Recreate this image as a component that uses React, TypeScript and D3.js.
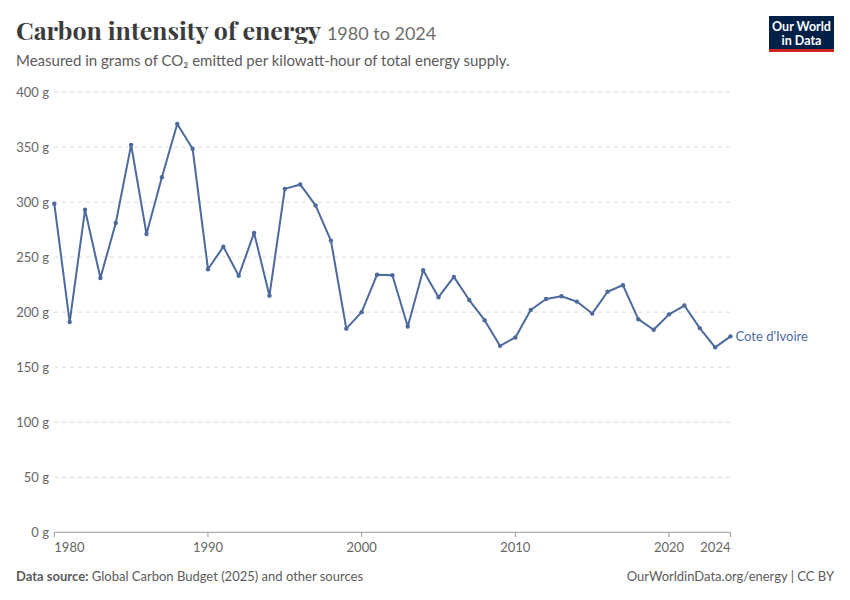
import * as d3 from 'd3'

const years: number[] = d3.range(1980, 2025)
const intensity: number[] = [
  298.5, 191, 293, 231, 281, 352, 271, 322.5, 371, 348.5,
  239, 259.5, 233, 272, 215, 312, 316, 297, 265, 185,
  200, 234, 233.6, 187, 238, 213.6, 232, 211, 192.7, 169.4,
  177, 202, 212, 214.5, 209.6, 198.7, 218.5, 224.5, 193.6, 184,
  198, 206, 185.5, 168, 178,
]
const yTicks: number[] = [0, 50, 100, 150, 200, 250, 300, 350, 400]
const xTicks: number[] = [1980, 1990, 2000, 2010, 2020, 2024]
const countryName = "Cote d'Ivoire"

const W = 850
const H = 600
const LINE = '#4c6a9c'
const FONT = 'Lato, "Noto Sans", sans-serif'

export default function App() {
  const x = d3.scaleLinear().domain([1980, 2024]).range([54.3, 730.5])
  const y = d3.scaleLinear().domain([0, 400]).range([532.3, 92])
  const points = years.map((yr, i) => ({ yr, v: intensity[i] }))
  const line = d3
    .line<{ yr: number; v: number }>()
    .x((d) => x(d.yr))
    .y((d) => y(d.v))
  const last = points[points.length - 1]

  return (
    <svg
      width={W}
      height={H}
      viewBox={`0 0 ${W} ${H}`}
      style={{ position: 'absolute', left: 0, top: 0, background: '#fff' }}
      fontFamily={FONT}
    >
      <rect width={W} height={H} fill="#fff" />
      <text x={16} y={40} fontFamily='"Playfair Display", "DejaVu Serif", Georgia, serif' fontSize={25} fontWeight={700} fill="#3b3b3b">
        Carbon intensity of energy
        <tspan fontFamily={FONT} fontWeight={400} fontSize={18} fill="#6e6e6e" dx={6}>
          1980 to 2024
        </tspan>
      </text>
      <text x={16} y={66} fontSize={15} fill="#5b5b5b">
        Measured in grams of CO₂ emitted per kilowatt-hour of total energy supply.
      </text>

      {/* logo */}
      <rect x={769} y={16} width={65} height={33} fill="#002147" />
      <rect x={769} y={49} width={65} height={3} fill="#ce261e" />
      <text x={801.5} y={31} textAnchor="middle" fontSize={12.5} fontWeight={700} fill="#fff">
        Our World
      </text>
      <text x={801.5} y={44.5} textAnchor="middle" fontSize={12.5} fontWeight={700} fill="#fff">
        in Data
      </text>

      {/* grid + y ticks */}
      {yTicks.map((t) => (
        <g key={t}>
          {t > 0 && (
            <line x1={54} x2={730} y1={y(t)} y2={y(t)} stroke="#dcdcdc" strokeDasharray="4 4" strokeWidth={1} />
          )}
          <text x={49} y={y(t)} dy="0.35em" textAnchor="end" fontSize={13} fill="#666">
            {`${t} g`}
          </text>
        </g>
      ))}

      {/* x axis */}
      <line x1={54.3} x2={730.5} y1={532.3} y2={532.3} stroke="#999" strokeWidth={1} />
      {xTicks.map((t, i) => (
        <g key={t}>
          <line x1={x(t)} x2={x(t)} y1={532.3} y2={537} stroke="#999" />
          <text
            x={x(t)}
            y={552}
            fontSize={13}
            fill="#666"
            textAnchor={i === 0 ? 'start' : i === xTicks.length - 1 ? 'end' : 'middle'}
          >
            {t}
          </text>
        </g>
      ))}

      {/* series */}
      <path d={line(points) ?? ''} fill="none" stroke={LINE} strokeWidth={2} strokeLinejoin="round" />
      {points.map((p) => (
        <circle key={p.yr} cx={x(p.yr)} cy={y(p.v)} r={2.2} fill={LINE} />
      ))}
      <text x={x(last.yr) + 5} y={y(last.v)} dy="0.35em" fontSize={13} fill={LINE}>
        {countryName}
      </text>

      {/* footer */}
      <text x={16} y={581} fontSize={13} fill="#5b5b5b">
        <tspan fontWeight={700}>Data source:</tspan> Global Carbon Budget (2025) and other sources
      </text>
      <text x={834} y={581} fontSize={13} fill="#5b5b5b" textAnchor="end">
        OurWorldinData.org/energy | CC BY
      </text>
    </svg>
  )
}
